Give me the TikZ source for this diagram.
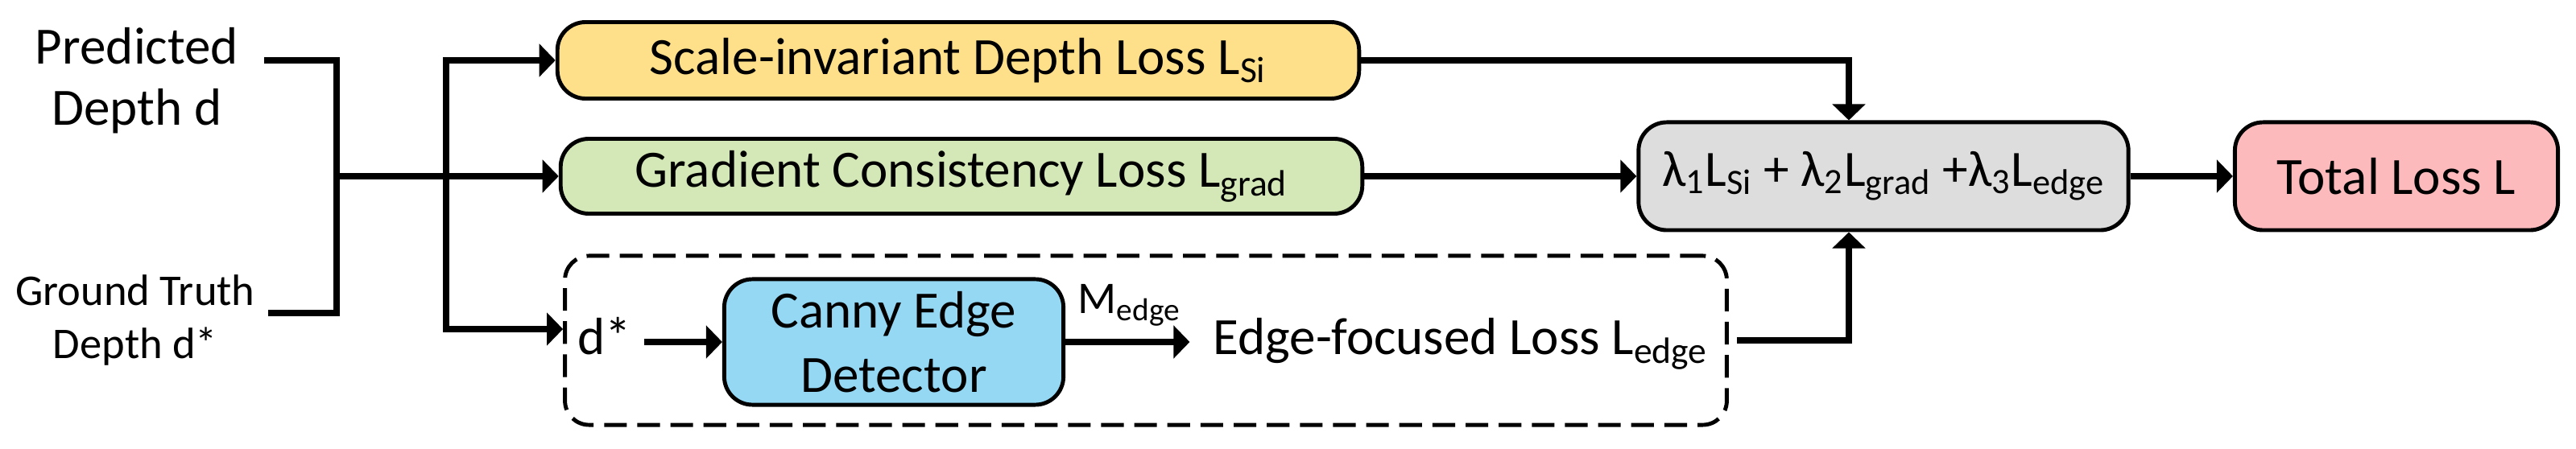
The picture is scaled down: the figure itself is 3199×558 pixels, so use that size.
\documentclass[tikz,border=0pt]{standalone}
\usepackage{fontspec}
\setmainfont{Carlito}
\usetikzlibrary{arrows.meta}
\definecolor{siyellow}{HTML}{FFE08A}
\definecolor{gradgreen}{HTML}{D3E8B6}
\definecolor{cannyblue}{HTML}{94D8F4}
\definecolor{sumgray}{HTML}{DDDDDD}
\definecolor{totalpink}{HTML}{FCBABD}

\begin{document}
\begin{tikzpicture}[x=0.01cm,y=-0.01cm,
  >={Triangle[length=5.7pt,width=11.4pt]},
  line width=2.4pt,
  lossbox/.style={draw,line width=1.4pt,rounded corners=0.35cm,inner sep=0pt,
    font=\fontsize{18.5}{22.8}\selectfont},
  txt/.style={inner sep=0pt,font=\fontsize{18.5}{21.6}\selectfont}]
  \useasboundingbox (0,0) rectangle (3199,558);
  % inputs
  \node[txt,align=center] (pred) at (170,100) {Predicted\\Depth d};
  \node[txt,align=center,font=\fontsize{15.5}{19}\selectfont] (gt) at (168,398) {Ground Truth\\Depth d*};
  \coordinate (pin) at (328,75);
  \coordinate (gin) at (333,389);
  \coordinate (join) at (418,219);
  \coordinate (split) at (554,219);
  % loss terms
  \node[lossbox,fill=siyellow,minimum width=9.95cm,minimum height=0.95cm] (si) at (1190,75) {Scale-invariant Depth Loss L\textsubscript{Si}};
  \node[lossbox,fill=gradgreen,minimum width=9.95cm,minimum height=0.93cm] (grad) at (1194,219) {Gradient Consistency Loss L\textsubscript{grad}};
  \node[draw,line width=1.4pt,dash pattern=on 8pt off 3.7pt,rounded corners=0.3cm,minimum width=14.42cm,minimum height=2.1cm] (edgebox) at (1423,423) {};
  \node[txt,anchor=base] (dstar) at (751,441) {d*};
  \node[lossbox,fill=cannyblue,align=center,minimum width=4.21cm,minimum height=1.56cm] (canny) at (1110,425) {Canny Edge\\Detector};
  \node[txt,anchor=base] (edgeloss) at (1814,441) {Edge-focused Loss L\textsubscript{edge}};
  % combination
  \node[lossbox,fill=sumgray,minimum width=6.08cm,minimum height=1.34cm,font=\fontsize{18}{22}\selectfont] (sum) at (2339,219) {λ\textsubscript{1}L\textsubscript{Si} + λ\textsubscript{2}L\textsubscript{grad} +λ\textsubscript{3}L\textsubscript{edge}};
  \node[lossbox,fill=totalpink,minimum width=4.01cm,minimum height=1.34cm] (total) at (2976,219) {Total Loss L};
  % connectors
  \draw (pin) -| (join) |- (gin);
  \draw (join) -- (split);
  \draw[->] (split) |- (si);
  \draw[->] (split) -- (grad);
  \draw[->] (split) |- ([yshift=0.14cm]edgebox.west);
  \draw[->,shorten <=0.11cm] (dstar.east |- canny) -- (canny);
  \draw[->] (canny) -- (canny -| edgeloss.west) [shorten >=0.25cm]
    node[midway,above=1pt,font=\fontsize{16}{19}\selectfont,xshift=-0.1cm] (medge) {M\textsubscript{edge}};
  \draw[->] (si) -| ([xshift=-0.43cm]sum.north);
  \draw[->] (grad) -- (sum);
  \draw[->,shorten <=0.1cm] (edgebox) -| ([xshift=-0.43cm]sum.south);
  \draw[->] (sum) -- (total);
\end{tikzpicture}
\end{document}
